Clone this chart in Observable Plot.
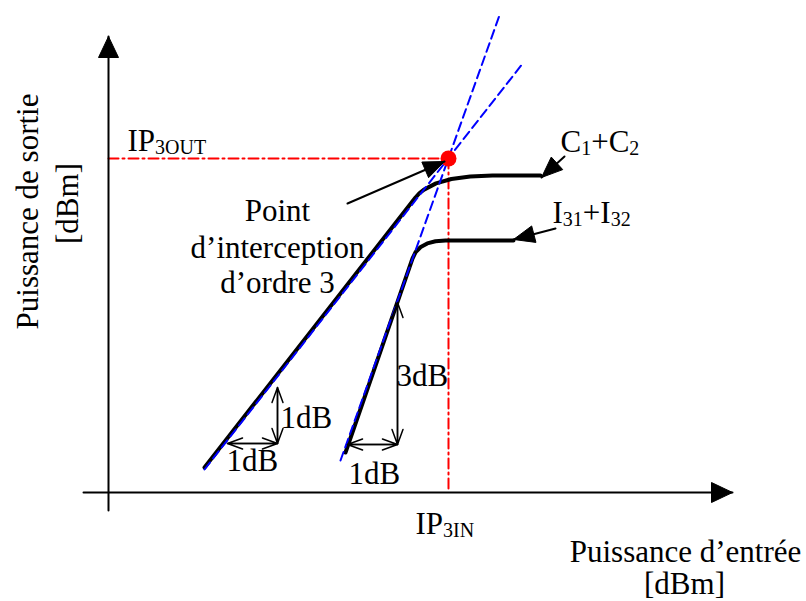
<!DOCTYPE html>
<html><head><meta charset="utf-8">
<script src="https://cdn.jsdelivr.net/npm/d3@7"></script>
<script src="https://cdn.jsdelivr.net/npm/@observablehq/plot@0.6"></script>
<style>body{margin:0;background:#fff} svg{display:block}</style>
</head><body><div id="chart"></div>
<script>
// Schematic coordinates (x: input power axis, y: output power axis, screen units)
const ipPoint = [{x: 448, y: 158}];
const outputCurve = [[204,467],[415,197],[418.8,192.8],[423.5,189.1],[435.5,182.9],[450.9,178.5],[469.7,175.9],[492,175],[540,175]];
const imdCurve = [[345,452],[412,258],[415.2,251.5],[420.2,246.5],[426.8,242.9],[435,240.7],[445,240],[513,240]];
const slope1Line = [[204,469],[523,62]];
const slope3Line = [[340,460],[500,12]];
const guideH = [[108,158],[448,158]];
const guideV = [[448,158],[448,492]];
const xAxisLine = [[83,492],[732,492]];
const yAxisLine = [[108,510],[108,36]];
const pointers = [
  {from: [347,203], to: [444,161]},
  {from: [564,156], to: [541,177]},
  {from: [555,228], to: [513,239]}
];
const dbArrows = [
  {a: [227,443], b: [277,443]},
  {a: [277,443], b: [277,387]},
  {a: [347,444], b: [397,444]},
  {a: [397,444], b: [397,302]}
];
const labels = [
  {text: "IP_{3OUT}", x: 127, y: 150, anchor: "start"},
  {text: "IP_{3IN}", x: 415, y: 533, anchor: "start"},
  {text: "C_{1}+C_{2}", x: 560, y: 151, anchor: "start"},
  {text: "I_{31}+I_{32}", x: 552, y: 222, anchor: "start"},
  {text: "Point", x: 277, y: 220, anchor: "middle"},
  {text: "d’interception", x: 277, y: 257, anchor: "middle"},
  {text: "d’ordre 3", x: 277, y: 292, anchor: "middle"},
  {text: "1dB", x: 280, y: 427, anchor: "start"},
  {text: "1dB", x: 226, y: 470, anchor: "start"},
  {text: "3dB", x: 396, y: 385, anchor: "start"},
  {text: "1dB", x: 348, y: 483, anchor: "start"},
  {text: "Puissance d’entrée", x: 685, y: 561, anchor: "middle"},
  {text: "[dBm]", x: 684, y: 593, anchor: "middle"}
];
const yLabels = [
  {text: "Puissance de sortie", x: 37, y: 211},
  {text: "[dBm]", x: 77, y: 203}
];

function headPolygon(from, to, len, halfW) {
  const dx = to[0] - from[0], dy = to[1] - from[1];
  const L = Math.hypot(dx, dy), ux = dx / L, uy = dy / L;
  const bx = to[0] - ux * len, by = to[1] - uy * len;
  return [to, [bx - uy * halfW, by + ux * halfW], [bx + uy * halfW, by - ux * halfW], to];
}
const axisHeads = [
  headPolygon([108,100], [108,36], 21, 10),
  headPolygon([600,492], [732,492], 21, 10)
];
const pointerHeads = pointers.map(p => headPolygon(p.from, p.to, 21, 8.5));

const pts = arr => arr.map(([x, y]) => ({x, y}));
const lineOf = (arr, opts) => Plot.line(pts(arr), {x: "x", y: "y", ...opts});

const marks = [
  lineOf(guideH, {stroke: "#ff0000", strokeWidth: 2, strokeDasharray: "10,4,2,4"}),
  lineOf(guideV, {stroke: "#ff0000", strokeWidth: 2, strokeDasharray: "10,4,2,4"}),
  lineOf(xAxisLine, {stroke: "#000", strokeWidth: 2}),
  lineOf(yAxisLine, {stroke: "#000", strokeWidth: 2}),
  ...axisHeads.map(h => lineOf(h, {stroke: "#000", strokeWidth: 1, fill: "#000"})),
  lineOf(outputCurve, {stroke: "#000", strokeWidth: 4, strokeLinejoin: "round"}),
  lineOf(imdCurve, {stroke: "#000", strokeWidth: 4, strokeLinejoin: "round"}),
  lineOf(slope1Line, {stroke: "#0000ff", strokeWidth: 2, strokeDasharray: "9,5"}),
  lineOf(slope3Line, {stroke: "#0000ff", strokeWidth: 2, strokeDasharray: "9,5"}),
  Plot.dot(ipPoint, {x: "x", y: "y", r: 8, fill: "#ff0000", stroke: "none"}),
  ...pointers.map(p => lineOf([p.from, p.to], {stroke: "#000", strokeWidth: 2})),
  ...pointerHeads.map(h => lineOf(h, {stroke: "#000", strokeWidth: 1, fill: "#000"})),
  Plot.arrow(dbArrows, {x1: d => d.a[0], y1: d => d.a[1], x2: d => d.b[0], y2: d => d.b[1], stroke: "#000", strokeWidth: 1.5, headLength: 16, headAngle: 40}),
  Plot.arrow(dbArrows, {x1: d => d.b[0], y1: d => d.b[1], x2: d => d.a[0], y2: d => d.a[1], stroke: "#000", strokeWidth: 1.5, headLength: 16, headAngle: 40}),
  Plot.text(labels.filter(d => d.anchor === "start"), {x: "x", y: "y", text: "text", textAnchor: "start", lineAnchor: "bottom", fontSize: 31, fill: "#000"}),
  Plot.text(labels.filter(d => d.anchor === "middle"), {x: "x", y: "y", text: "text", textAnchor: "middle", lineAnchor: "bottom", fontSize: 31, fill: "#000"}),
  Plot.text(yLabels, {x: "x", y: "y", text: "text", rotate: -90, textAnchor: "middle", lineAnchor: "bottom", fontSize: 31, fill: "#000"})
];

const chart = Plot.plot({
  width: 806,
  height: 601,
  margin: 0,
  x: {domain: [0, 806], range: [0, 806], axis: null},
  y: {domain: [0, 601], range: [0, 601], axis: null},
  style: {fontFamily: "'Liberation Serif', 'Times New Roman', serif", background: "#fff", overflow: "visible"},
  marks
});

// subscripts: turn "_{..}" into smaller, lowered tspans
const NS = "http://www.w3.org/2000/svg";
chart.querySelectorAll("text").forEach(t => {
  const s = t.textContent;
  if (!s.includes("_{")) return;
  const re = /_\{([^}]*)\}/g;
  const parts = [];
  let last = 0, m;
  while ((m = re.exec(s))) {
    if (m.index > last) parts.push([s.slice(last, m.index), false]);
    parts.push([m[1], true]);
    last = re.lastIndex;
  }
  if (last < s.length) parts.push([s.slice(last), false]);
  while (t.firstChild) t.removeChild(t.firstChild);
  for (const [txt, sub] of parts) {
    const ts = document.createElementNS(NS, "tspan");
    if (sub) { ts.setAttribute("font-size", "20"); ts.setAttribute("dy", "3"); }
    else if (t.childNodes.length) { ts.setAttribute("dy", "-3"); }
    ts.textContent = txt;
    t.appendChild(ts);
  }
});

document.getElementById("chart").appendChild(chart);
</script>
</body></html>
